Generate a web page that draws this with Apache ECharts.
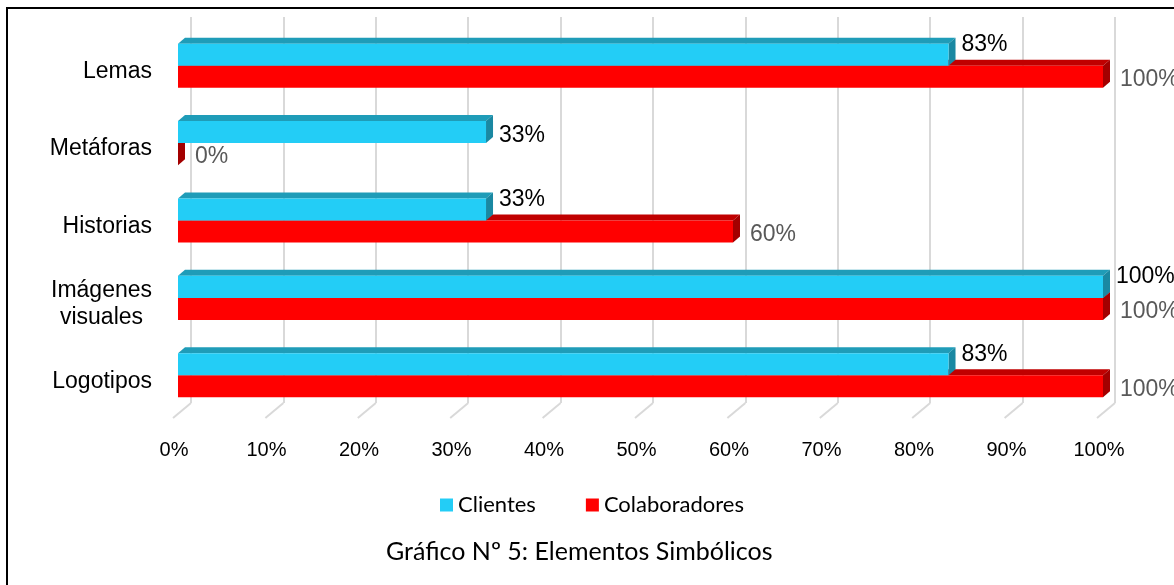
<!DOCTYPE html>
<html>
<head>
<meta charset="utf-8">
<title>Elementos Simbólicos</title>
<script src="https://cdn.jsdelivr.net/npm/echarts@6/dist/echarts.min.js"></script>
<style>
    html, body {margin: 0; padding: 0; background: #fff;}
    #chart {width: 1174px; height: 585px;}
</style>
</head>
<body>
<div id="chart"></div>
<script>
// datos (las barras miden 1/3 y 5/6, la etiqueta va redondeada)
var aCategorias = ['Lemas', 'Metáforas', 'Historias', 'Imágenes visuales', 'Logotipos'];
var aClientes = [83.3, 33.3, 33.3, 100, 83.3];
var aColaboradores = [100, 0, 60, 100, 100];
var aNombres = ['Clientes', 'Colaboradores'];
var aTicks = [0, 10, 20, 30, 40, 50, 60, 70, 80, 90, 100];

var sFuente = '"Liberation Sans", Arial, sans-serif';
var sFuenteCal = 'Lato, "Open Sans", sans-serif';

// barra 3D: cara frontal + cara superior + lateral, todo por api.coord
function BarRender(iLado, sFrente, sArriba, sLado, sColorLabel, iGapLabel, iDyLabel) {
    return function (params, api) {
        var iCat = api.value(1);
        var fVal = api.value(0);
        var p0 = api.coord([0, iCat]);
        var p1 = api.coord([fVal, iCat]);
        var fBanda = api.size([0, 1])[1];
        var h = fBanda * 0.285;
        var dx = 7, dy = 6;
        var yTop = iLado === 0 ? p0[1] - h : p0[1];
        var yBot = yTop + h;
        var x0 = p0[0], x1 = p1[0];
        var yLabel = iLado === 0 ? yTop : yTop + h / 2;
        // si la otra barra es 0, excel baja la etiqueta al medio de la barra
        if (iLado === 0 && aColaboradores[iCat] === 0) {
            yLabel = yTop + h / 2 + 3;
        }
        var aHijos = [];
        aHijos.push({
            type: 'polygon',
            shape: {points: [[x0, yTop], [x0 + dx, yTop - dy], [x1 + dx, yTop - dy], [x1, yTop]]},
            style: {fill: sArriba}
        });
        aHijos.push({
            type: 'polygon',
            shape: {points: [[x1, yTop], [x1 + dx, yTop - dy], [x1 + dx, yBot - dy], [x1, yBot]]},
            style: {fill: sLado}
        });
        if (x1 > x0) {
            aHijos.push({
                type: 'rect',
                shape: {x: x0, y: yTop, width: x1 - x0, height: h},
                style: {fill: sFrente}
            });
        }
        aHijos.push({
            type: 'text',
            style: {
                text: Math.round(fVal) + '%',
                x: x1 + dx + iGapLabel,
                y: yLabel + iDyLabel,
                align: 'left',
                verticalAlign: 'middle',
                fill: sColorLabel,
                fontSize: 23,
                fontFamily: sFuente
            }
        });
        return {type: 'group', children: aHijos};
    };
}

// lineas del piso (diagonal bajo cada linea de division)
function PisoRender(params, api) {
    var p = api.coord([api.value(0), 0]);
    return {
        type: 'line',
        shape: {x1: p[0], y1: p[1], x2: p[0] - 18, y2: p[1] + 15},
        style: {stroke: '#D9D9D9', lineWidth: 2}
    };
}

var jOption = {
    animation: false,
    backgroundColor: '#fff',
    graphic: [{
        type: 'rect',
        shape: {x: 7, y: 8, width: 1200, height: 620},
        style: {fill: 'none', stroke: '#000', lineWidth: 2},
        silent: true
    }],
    title: {
        text: 'Gráfico Nº 5: Elementos Simbólicos',
        left: 381,
        top: 534,
        textStyle: {fontSize: 25, fontWeight: 'normal', color: '#000', fontFamily: sFuenteCal}
    },
    legend: {
        data: aNombres,
        top: 489,
        left: 435,
        icon: 'rect',
        itemWidth: 13,
        itemHeight: 13,
        itemGap: 50,
        textStyle: {fontSize: 22, color: '#000', fontFamily: sFuenteCal}
    },
    grid: [
        {left: 191, right: 59, top: 17, bottom: 182},   // pared del fondo
        {left: 178, right: 71, top: 27, bottom: 171}    // barras
    ],
    xAxis: [
        {
            gridIndex: 0, type: 'value', min: 0, max: 100, interval: 10,
            axisLine: {show: false}, axisTick: {show: false}, axisLabel: {show: false},
            splitLine: {show: true, lineStyle: {color: '#D9D9D9', width: 2}}
        },
        {
            gridIndex: 1, type: 'value', min: 0, max: 100, interval: 10,
            axisLine: {show: false}, axisTick: {show: false}, splitLine: {show: false},
            axisLabel: {
                formatter: '{value}%', margin: 26, padding: [0, 8, 0, 0],
                fontSize: 20, color: '#000', fontFamily: sFuente
            }
        }
    ],
    yAxis: [
        {gridIndex: 0, type: 'value', min: 0, max: 1, show: false},
        {
            gridIndex: 1, type: 'category', data: aCategorias, inverse: true,
            axisLine: {show: false}, axisTick: {show: false},
            axisLabel: {
                margin: 26, padding: [12, 0, 0, 0],
                formatter: function (s) {
                    return '{a|' + s.split(' ').join('}\n{a|') + '}';
                },
                rich: {a: {fontSize: 23, lineHeight: 27, color: '#000', fontFamily: sFuente, align: 'center'}}
            }
        }
    ],
    series: [
        {
            type: 'custom', name: 'Piso', xAxisIndex: 0, yAxisIndex: 0,
            data: aTicks.map(function (t) { return [t, 0]; }),
            renderItem: PisoRender, silent: true, z: 1
        },
        {
            type: 'custom', name: 'Colaboradores', xAxisIndex: 1, yAxisIndex: 1,
            itemStyle: {color: '#FF0000'},
            data: aColaboradores.map(function (v, i) { return [v, i]; }),
            renderItem: BarRender(1, '#FF0000', '#C00000', '#A30000', '#595959', 10, 3),
            z: 2
        },
        {
            type: 'custom', name: 'Clientes', xAxisIndex: 1, yAxisIndex: 1,
            itemStyle: {color: '#23CDF6'},
            data: aClientes.map(function (v, i) { return [v, i]; }),
            renderItem: BarRender(0, '#23CDF6', '#1F9CB8', '#1A88A2', '#000', 6, 1),
            z: 3
        }
    ]
};

var oChart = echarts.init(document.getElementById('chart'));
oChart.setOption(jOption);
</script>
</body>
</html>
